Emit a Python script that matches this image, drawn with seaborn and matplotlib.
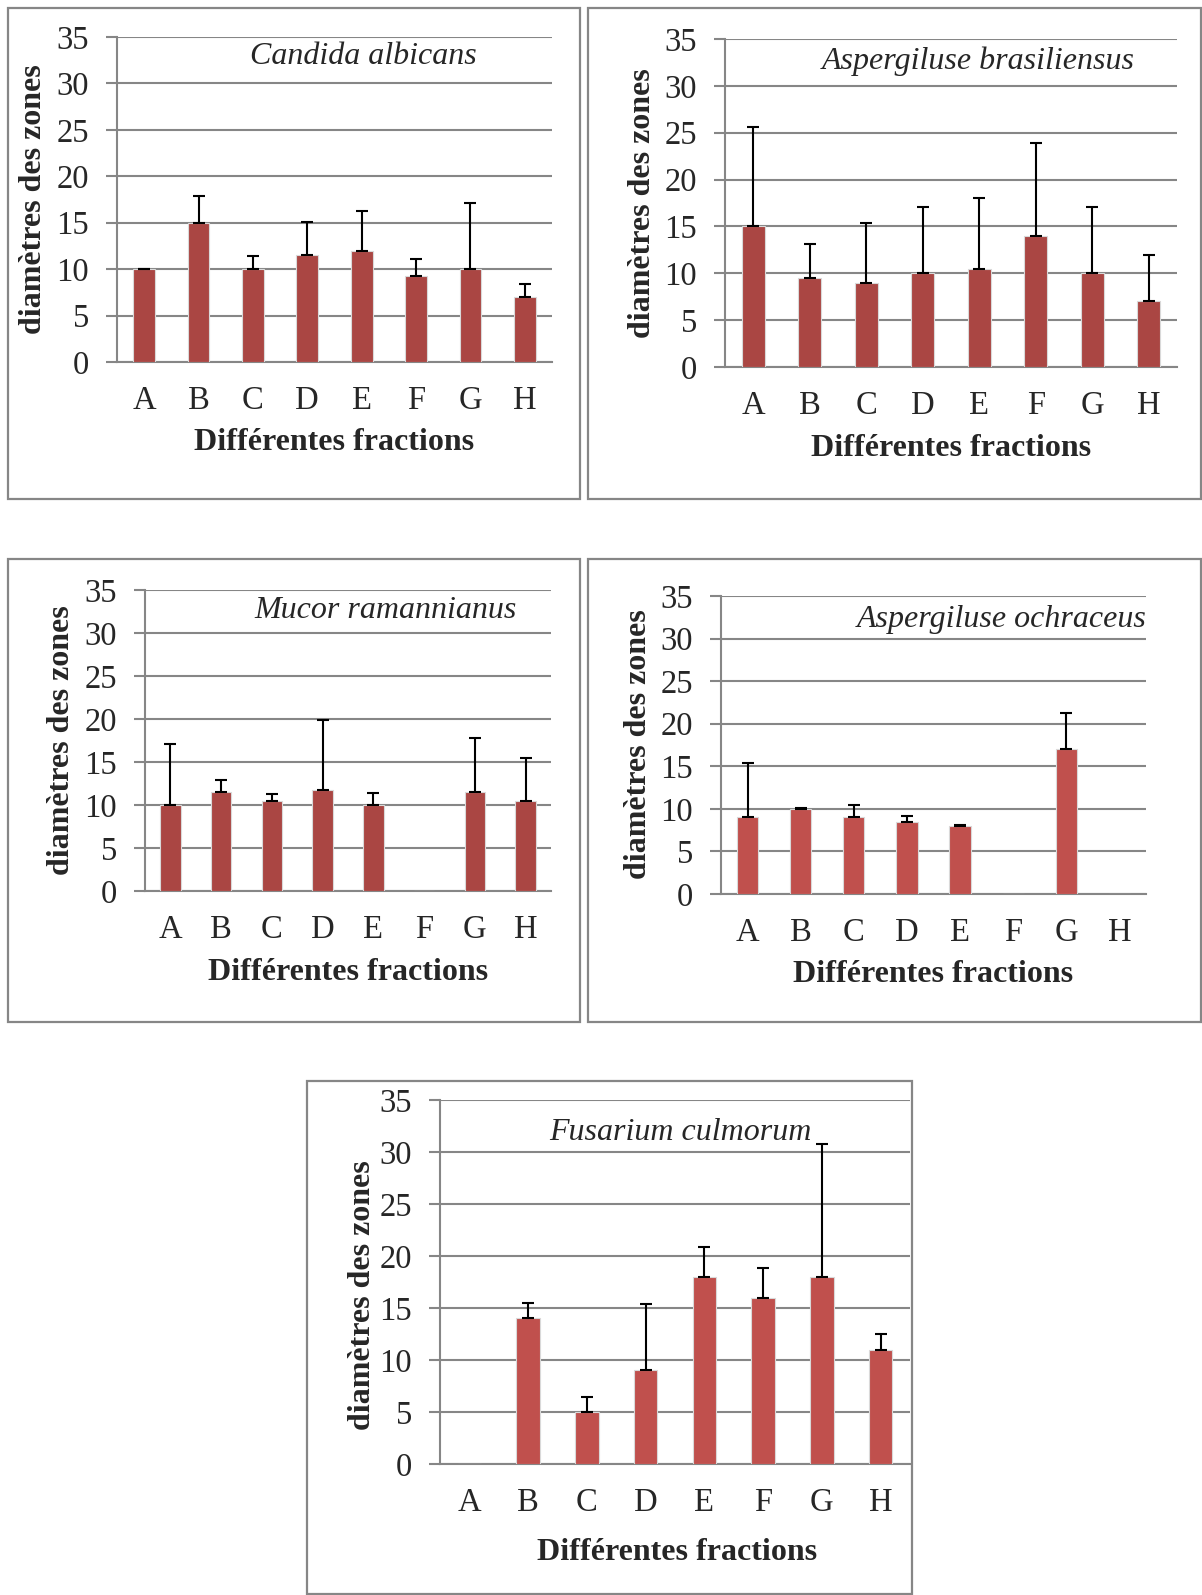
import numpy as np
import pandas as pd
import matplotlib
matplotlib.use("Agg")
import matplotlib.pyplot as plt
import seaborn as sns
from matplotlib.patches import Rectangle
from matplotlib.ticker import FixedLocator, MultipleLocator

# fractions on the x axis
fractions = ["A", "B", "C", "D", "E", "F", "G", "H"]

# mean inhibition zone diameters and upper error bars, one pair per organism
candida_vals = [10, 15, 10, 11.5, 12, 9.25, 10, 7]
candida_err = [0.05, 2.9, 1.45, 3.6, 4.3, 1.8, 7.1, 1.45]

brasil_vals = [15, 9.5, 9, 10, 10.5, 14, 10, 7]
brasil_err = [10.6, 3.6, 6.4, 7.1, 7.5, 9.9, 7.1, 5]

mucor_vals = [10, 11.5, 10.5, 11.7, 10, 0, 11.5, 10.5]
mucor_err = [7.1, 1.4, 0.75, 8.2, 1.45, 0, 6.3, 5]

ochra_vals = [9, 10, 9, 8.5, 8, 0, 17, 0]
ochra_err = [6.4, 0.05, 1.45, 0.7, 0.05, 0, 4.2, 0]

fusa_vals = [0, 14, 5, 9, 18, 16, 18, 11]
fusa_err = [0, 1.45, 1.45, 6.4, 2.85, 2.85, 12.8, 1.5]

W, H = 1202, 1595
GRID = "#868686"
DARK = "#AA4643"
LIGHT = "#C0504D"

sns.set_style("white")
plt.rcParams["font.family"] = ["Liberation Serif", "DejaVu Serif"]

fig = plt.figure(figsize=(W / 100, H / 100), dpi=100)


def fig_xy(x, y):
    return x / W, 1 - y / H


def draw_panel(name, vals, errs, color, frame, box, title_xy, ylab_xy, xlab_xy):
    # outer chart frame
    fl, ft, fr, fb = frame
    fig.patches.append(Rectangle((fl / W, 1 - fb / H), (fr - fl) / W, (fb - ft) / H,
                                 transform=fig.transFigure, fill=False,
                                 edgecolor=GRID, lw=1.6))
    l, t, r, b = box
    ax = fig.add_axes([l / W, 1 - b / H, (r - l) / W, (b - t) / H])
    df = pd.DataFrame({"fraction": fractions, "diam": vals, "err": errs})
    sns.barplot(data=df, x="fraction", y="diam", color=color, width=0.4,
                saturation=1, edgecolor="#d9d9d9", linewidth=0.8, ax=ax, zorder=3)

    # error bars only where there is a bar (empty fractions have none)
    pos = np.arange(len(vals))
    keep = df["diam"].to_numpy() > 0
    ax.errorbar(pos[keep], df["diam"][keep],
                yerr=[np.zeros(keep.sum()), df["err"][keep]],
                fmt="none", ecolor="black", elinewidth=1.5, capsize=4.5,
                capthick=1.5, zorder=4)

    ax.set_xlim(-0.5, 7.5)
    ax.set_ylim(0, 35)
    ax.yaxis.set_major_locator(MultipleLocator(5))
    ax.xaxis.set_minor_locator(FixedLocator(np.arange(-0.5, 8, 1)))
    ax.grid(axis="y", color=GRID, lw=1.5, zorder=0)
    ax.set_axisbelow(True)
    for s in ["top", "right"]:
        ax.spines[s].set_visible(False)
    for s in ["left", "bottom"]:
        ax.spines[s].set_color(GRID)
        ax.spines[s].set_linewidth(1.5)
    ax.tick_params(axis="x", which="major", length=0, pad=17, labelsize=23.5)
    ax.tick_params(axis="x", which="minor", length=7, width=1.5, color=GRID)
    ax.tick_params(axis="y", length=8, width=1.5, color=GRID, pad=12, labelsize=23.5,
                   left=True)

    ax.set_xlabel("Différentes fractions", fontsize=23, fontweight="bold", va="center")
    ax.set_ylabel("diamètres des zones", fontsize=23, fontweight="bold", va="center")
    ax.xaxis.set_label_coords(*fig_xy(*xlab_xy), transform=fig.transFigure)
    ax.yaxis.set_label_coords(*fig_xy(*ylab_xy), transform=fig.transFigure)

    tx, ty = fig_xy(*title_xy)
    ax.text(tx, ty, name, transform=fig.transFigure, fontsize=23, style="italic",
            ha="center", va="center")
    return ax


draw_panel("Candida albicans", candida_vals, candida_err, DARK,
           (8, 8, 580, 499), (117, 37, 552, 362), (363, 56), (34, 199), (334, 443))
draw_panel("Aspergiluse brasiliensus", brasil_vals, brasil_err, DARK,
           (588, 8, 1201, 499), (725, 39, 1177, 367), (978, 61), (642, 203), (951, 448))
draw_panel("Mucor ramannianus", mucor_vals, mucor_err, DARK,
           (8, 559, 580, 1022), (145, 590, 551, 891), (386, 610), (62, 740), (348, 972))
draw_panel("Aspergiluse ochraceus", ochra_vals, ochra_err, LIGHT,
           (588, 559, 1201, 1022), (721, 596, 1146, 894), (1002, 620), (638, 744), (933, 975))
draw_panel("Fusarium culmorum", fusa_vals, fusa_err, LIGHT,
           (307, 1081, 912, 1594), (440, 1100, 910, 1464), (680, 1132), (363, 1295), (677, 1553))

fig.savefig("out.png", dpi=100)
